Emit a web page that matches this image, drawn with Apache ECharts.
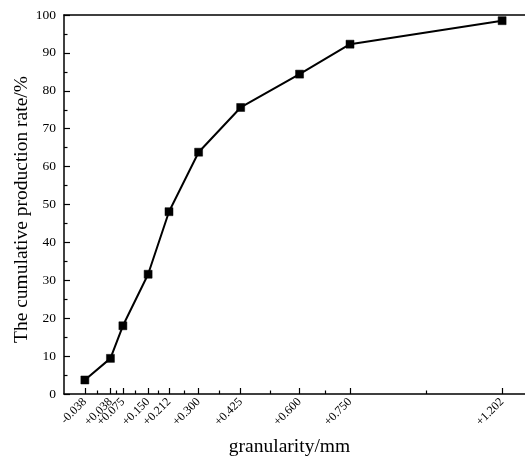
<!DOCTYPE html>
<html>
<head>
<meta charset="utf-8">
<script src="https://cdn.jsdelivr.net/npm/echarts@6/dist/echarts.min.js"></script>
<style>
  html, body { margin: 0; padding: 0; background: #fff; }
  #main { width: 525px; height: 456px; }
</style>
</head>
<body>
<div id="main"></div>
<script>
// granularity classes (mm) and cumulative production rate (%)
const sizes = [-0.038, 0.038, 0.075, 0.150, 0.212, 0.300, 0.425, 0.600, 0.750, 1.202];
const sizeLabels = ["-0.038", "+0.038", "+0.075", "+0.150", "+0.212", "+0.300", "+0.425", "+0.600", "+0.750", "+1.202"];
const cumulative = [3.7, 9.4, 18.0, 31.6, 48.1, 63.8, 75.6, 84.4, 92.3, 98.5];

// minor ticks halfway between the labelled sizes
const minorTicks = [];
for (let i = 0; i < sizes.length - 1; i++) {
  minorTicks.push((sizes[i] + sizes[i + 1]) / 2);
}

const font = "Liberation Serif";
const black = "#000";
const chart = echarts.init(document.getElementById("main"));

chart.setOption({
  animation: false,
  grid: { left: 64, top: 15, bottom: 62, right: 0, outerBoundsMode: "none", containLabel: false },
  xAxis: [
    {
      type: "value",
      min: -0.1, max: 1.27,
      name: "granularity/mm",
      nameLocation: "middle",
      nameGap: 43,
      nameTextStyle: { fontFamily: font, fontSize: 19.5, color: black, padding: [0, 10, 0, 0] },
      axisLine: { show: true, onZero: false, lineStyle: { color: black, width: 1.5 } },
      axisTick: { inside: true, length: 6, customValues: sizes, lineStyle: { color: black, width: 1.2 } },
      axisLabel: {
        customValues: sizes,
        rotate: 45,
        margin: 6,
        fontFamily: font, fontSize: 12, color: black,
        formatter: (v) => {
          const i = sizes.findIndex((s) => Math.abs(s - v) < 1e-6);
          return i >= 0 ? sizeLabels[i] : "";
        }
      },
      splitLine: { show: false }
    },
    {
      // minor ticks along the bottom
      type: "value",
      position: "bottom",
      min: -0.1, max: 1.27,
      axisLine: { show: false, onZero: false },
      axisTick: { show: true, inside: true, length: 3.5, customValues: minorTicks, lineStyle: { color: black, width: 1.2 } },
      axisLabel: { show: false },
      splitLine: { show: false }
    },
    {
      // top frame line
      type: "value",
      position: "top",
      min: -0.1, max: 1.27,
      axisLine: { show: true, onZero: false, lineStyle: { color: black, width: 1.5 } },
      axisTick: { show: false },
      axisLabel: { show: false },
      splitLine: { show: false }
    }
  ],
  yAxis: {
    type: "value",
    min: 0, max: 100, interval: 10,
    name: "The cumulative production rate/%",
    nameLocation: "middle",
    nameGap: 32,
    nameMoveOverlap: false,
    nameTextStyle: { fontFamily: font, fontSize: 19.5, color: black, padding: [0, 10, 0, 0] },
    axisLine: { show: true, onZero: false, lineStyle: { color: black, width: 1.5 } },
    axisTick: { inside: true, length: 6, lineStyle: { color: black, width: 1.2 } },
    minorTick: { show: true, splitNumber: 2, length: 3.5, lineStyle: { color: black, width: 1.2 } },
    axisLabel: { margin: 8, fontFamily: font, fontSize: 13.5, color: black },
    splitLine: { show: false }
  },
  series: [
    {
      type: "line",
      data: sizes.map((s, i) => [s, cumulative[i]]),
      symbol: "rect",
      symbolSize: 8,
      lineStyle: { color: black, width: 2 },
      itemStyle: { color: black, borderColor: black, borderWidth: 0.5 }
    }
  ]
});
</script>
</body>
</html>
